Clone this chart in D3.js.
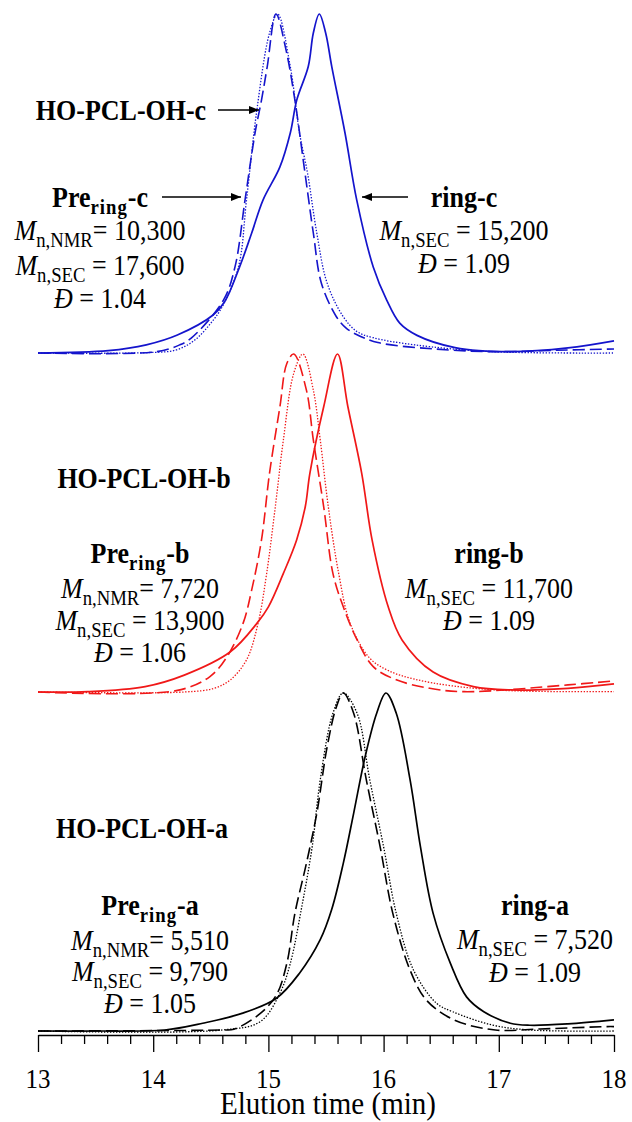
<!DOCTYPE html>
<html>
<head>
<meta charset="utf-8">
<script src="https://cdn.jsdelivr.net/npm/d3@7"></script>
<style>
  body { margin: 0; background: #fff; }
  svg { display: block; }
  text, tspan { font-family: "Liberation Serif", "Times New Roman", Times, serif; fill: #000; }
</style>
</head>
<body>
<svg id="chart" width="632" height="1122" font-family="Liberation Serif, Times New Roman, serif"></svg>
<script>
// ---- Axis ticks ----------------------------------------------------------
const majorTicks = [13, 14, 15, 16, 17, 18];
const minorTicks = [13.2, 13.4, 13.6, 13.8, 14.2, 14.4, 14.6, 14.8, 15.2, 15.4, 15.6, 15.8,
                    16.2, 16.4, 16.6, 16.8, 17.2, 17.4, 17.6, 17.8];
const axisTitle = "Elution time (min)";

// ---- SEC traces: [elution time (min), normalised RI signal] --------------
// sample c
const hoC = [[13.0,0],[13.93,0.001],[14.2,0.009],[14.36,0.038],[14.5,0.088],[14.6,0.137],
  [14.74,0.254],[14.81,0.451],[14.9,0.717],[15.01,0.944],[15.08,1.0],[15.19,0.845],
  [15.27,0.649],[15.34,0.53],[15.42,0.354],[15.51,0.206],[15.65,0.107],[15.77,0.063],
  [15.91,0.045],[16.27,0.024],[16.94,0.004],[18.0,0.0]];
const preC = [[13.0,0],[14.03,0.004],[14.23,0.024],[14.33,0.044],[14.61,0.156],[14.71,0.254],
  [14.797,0.451],[14.884,0.649],[14.94,0.746],[14.99,0.845],[15.066,1.0],[15.153,0.894],
  [15.23,0.746],[15.31,0.55],[15.39,0.354],[15.46,0.206],[15.59,0.107],[15.67,0.075],
  [15.74,0.059],[15.95,0.031],[16.44,0.012],[16.94,0.004],[17.5,0.008],[18.0,0.012]];
const ringC = [[13.0,0],[13.61,0.007],[13.94,0.024],[14.21,0.053],[14.52,0.112],[14.62,0.151],
  [14.75,0.254],[14.855,0.354],[14.953,0.451],[15.10,0.549],[15.19,0.649],[15.246,0.746],
  [15.346,0.845],[15.39,0.944],[15.442,1.0],[15.497,0.944],[15.55,0.845],[15.665,0.649],
  [15.767,0.451],[15.91,0.254],[16.027,0.156],[16.14,0.088],[16.29,0.052],[16.62,0.016],
  [17.1,0.004],[17.6,0.015],[18.0,0.036]];

// sample b
const hoB = [[13.0,0],[14.27,0.0],[14.53,0.011],[14.67,0.036],[14.81,0.095],[14.91,0.203],
  [14.985,0.351],[15.06,0.548],[15.13,0.746],[15.22,0.943],[15.30,1.0],[15.39,0.893],
  [15.45,0.746],[15.52,0.548],[15.61,0.351],[15.71,0.203],[15.88,0.10],[16.05,0.062],
  [16.27,0.038],[16.60,0.018],[17.10,0.004],[18.0,0.001]];
const preB = [[13.0,0],[14.20,0.004],[14.49,0.045],[14.64,0.104],[14.78,0.203],[14.855,0.302],
  [14.94,0.45],[15.01,0.648],[15.10,0.844],[15.16,0.972],[15.22,1.0],[15.33,0.893],
  [15.39,0.746],[15.48,0.548],[15.56,0.351],[15.65,0.252],[15.77,0.154],[15.91,0.075],
  [16.11,0.036],[16.40,0.011],[16.70,0.001],[17.60,0.021],[18.0,0.033]];
const ringB = [[13.0,0],[13.43,0.001],[13.93,0.016],[14.27,0.05],[14.67,0.119],[14.90,0.203],
  [15.0,0.252],[15.13,0.351],[15.245,0.45],[15.32,0.548],[15.36,0.647],[15.48,0.844],
  [15.60,1.0],[15.69,0.844],[15.81,0.647],[15.90,0.45],[16.04,0.252],[16.16,0.154],
  [16.43,0.059],[16.78,0.016],[17.10,0.006],[17.60,0.011],[18.0,0.024]];

// sample a
const hoA = [[13.0,0],[14.60,0.003],[14.93,0.028],[15.10,0.112],[15.19,0.2],[15.29,0.368],
  [15.38,0.545],[15.45,0.743],[15.56,0.94],[15.65,1.0],[15.77,0.94],[15.88,0.743],
  [16.0,0.545],[16.11,0.348],[16.26,0.18],[16.46,0.082],[16.60,0.057],[16.94,0.018],
  [17.27,0.003],[18.0,0.0]];
const preA = [[13.0,0],[14.6,0.003],[14.70,0.005],[14.93,0.052],[15.07,0.107],[15.16,0.2],
  [15.23,0.348],[15.33,0.496],[15.42,0.644],[15.51,0.841],[15.59,0.959],[15.65,1.0],
  [15.74,0.94],[15.85,0.743],[15.97,0.545],[16.08,0.348],[16.23,0.18],[16.37,0.092],
  [16.61,0.033],[16.97,0.003],[17.36,0.006],[17.94,0.013],[18.0,0.013]];
const ringA = [[13.0,0],[13.54,0.0],[14.10,0.003],[14.43,0.023],[14.77,0.052],[15.07,0.097],
  [15.27,0.171],[15.45,0.27],[15.55,0.36],[15.65,0.496],[15.74,0.644],[15.84,0.812],
  [15.94,0.94],[16.02,1.0],[16.11,0.94],[16.23,0.743],[16.32,0.545],[16.43,0.348],
  [16.58,0.2],[16.72,0.101],[16.87,0.057],[17.10,0.023],[17.27,0.017],[17.60,0.021],
  [18.0,0.033]];

// ---- Annotation text -----------------------------------------------------
const sampleIds   = ["c", "b", "a"];
const preMnNMR    = ["10,300", "7,720", "5,510"];
const preMnSEC    = ["17,600", "13,900", "9,790"];
const preDisp     = ["1.04", "1.06", "1.05"];
const ringMnSEC   = ["15,200", "11,700", "7,520"];
const ringDisp    = ["1.09", "1.09", "1.09"];

// ---- Layout ---------------------------------------------------------------
const svg = d3.select("#chart");
const x = d3.scaleLinear().domain([13, 18]).range([38, 614]);
const FS = 26, SY = 1.15;   // font size and vertical stretch of lettering
const FONT = "Liberation Serif, Times New Roman, serif";

const panels = [
  { color: "#1414cc", base: 353, top: 14,  ho: hoC, pre: preC, ring: ringC,
    hoLab: { x: 121, y: 120 }, left: { x: 100, y: [207, 240, 275, 308] },
    right: { x: 464, y: [207, 240, 273] },
    arrows: [[218, 259, 110], [162, 241, 197], [408, 362, 197]] },
  { color: "#f01818", base: 692, top: 354, ho: hoB, pre: preB, ring: ringB,
    hoLab: { x: 144, y: 488 }, left: { x: 140, y: [563, 598, 630, 662] },
    right: { x: 489, y: [563, 598, 630] }, arrows: [] },
  { color: "#000000", base: 1031, top: 693, ho: hoA, pre: preA, ring: ringA,
    hoLab: { x: 142, y: 838 }, left: { x: 150, y: [915, 950, 981, 1013] },
    right: { x: 535, y: [915, 949, 982] }, arrows: [] }
];

// arrowhead
svg.append("defs").append("marker")
  .attr("id", "head").attr("viewBox", "0 0 10 8")
  .attr("refX", 10).attr("refY", 4)
  .attr("markerWidth", 11).attr("markerHeight", 8)
  .attr("markerUnits", "userSpaceOnUse").attr("orient", "auto")
  .append("path").attr("d", "M0,0 L10,4 L0,8 Z").attr("fill", "#000");

const styles = {
  ho:   { width: 1.3, dash: "1.4,1.6" },
  pre:  { width: 1.6, dash: "12,5" },
  ring: { width: 1.7, dash: null }
};

panels.forEach(p => {
  const y = d3.scaleLinear().domain([0, 1]).range([p.base, p.top]);
  const line = d3.line().x(d => x(d[0])).y(d => y(d[1])).curve(d3.curveCatmullRom.alpha(0.5));
  const g = svg.append("g");
  ["ho", "pre", "ring"].forEach(k => {
    g.append("path")
      .datum(p[k])
      .attr("d", line)
      .attr("fill", "none")
      .attr("stroke", p.color)
      .attr("stroke-width", styles[k].width)
      .attr("stroke-dasharray", styles[k].dash)
      .attr("stroke-linejoin", "round");
  });
});

// ---- text helpers ---------------------------------------------------------
function label(xc, yb, size, sy) {
  return svg.append("text")
    .attr("transform", `translate(${xc},${yb}) scale(1,${sy || SY})`)
    .attr("text-anchor", "middle")
    .attr("font-family", FONT)
    .attr("font-size", size || FS);
}
function mnLine(xc, yb, sub, value) {
  const t = label(xc, yb);
  t.append("tspan").attr("font-style", "italic").text("M");
  t.append("tspan").attr("font-size", FS * 0.72).attr("dy", 6).text(sub);
  t.append("tspan").attr("dy", -6).text((sub === "n,NMR" ? "= " : " = ") + value);
}
function dispLine(xc, yb, value) {
  const t = label(xc, yb);
  t.append("tspan").attr("font-style", "italic").text("\u0110");
  t.append("tspan").text(" = " + value);
}
function preLine(xc, yb, id) {
  const t = label(xc, yb).attr("font-weight", "bold");
  t.append("tspan").text("Pre");
  t.append("tspan").attr("font-size", FS * 0.72).attr("dy", 6).attr("letter-spacing", 1).text("ring");
  t.append("tspan").attr("dy", -6).text("-" + id);
}

panels.forEach((p, i) => {
  const id = sampleIds[i];
  label(p.hoLab.x, p.hoLab.y).attr("font-weight", "bold").text("HO-PCL-OH-" + id);
  preLine(p.left.x, p.left.y[0], id);
  mnLine(p.left.x, p.left.y[1], "n,NMR", preMnNMR[i]);
  mnLine(p.left.x, p.left.y[2], "n,SEC", preMnSEC[i]);
  dispLine(p.left.x, p.left.y[3], preDisp[i]);
  label(p.right.x, p.right.y[0]).attr("font-weight", "bold").text("ring-" + id);
  mnLine(p.right.x, p.right.y[1], "n,SEC", ringMnSEC[i]);
  dispLine(p.right.x, p.right.y[2], ringDisp[i]);
  p.arrows.forEach(a => {
    svg.append("line")
      .attr("x1", a[0]).attr("x2", a[1]).attr("y1", a[2]).attr("y2", a[2])
      .attr("stroke", "#000").attr("stroke-width", 1.6)
      .attr("marker-end", "url(#head)");
  });
});

// ---- x axis -----------------------------------------------------------------
const axisY = 1035;
const axisG = svg.append("g").attr("transform", `translate(0,${axisY})`);
axisG.call(d3.axisBottom(x).tickValues(minorTicks).tickSize(9).tickSizeOuter(0).tickFormat(""));
axisG.append("g").call(d3.axisBottom(x).tickValues(majorTicks).tickSize(17).tickSizeOuter(0).tickFormat(""))
  .select(".domain").remove();
axisG.selectAll("path.domain").attr("stroke", "#000").attr("stroke-width", 1.5);
axisG.selectAll(".tick line").attr("stroke", "#000").attr("stroke-width", 1.3);

majorTicks.forEach(v => {
  label(x(v), axisY + 53, 25, 1.1).text(d3.format("d")(v));
});
label(328, 1114, 29, 1.06).text(axisTitle);
</script>
</body>
</html>
